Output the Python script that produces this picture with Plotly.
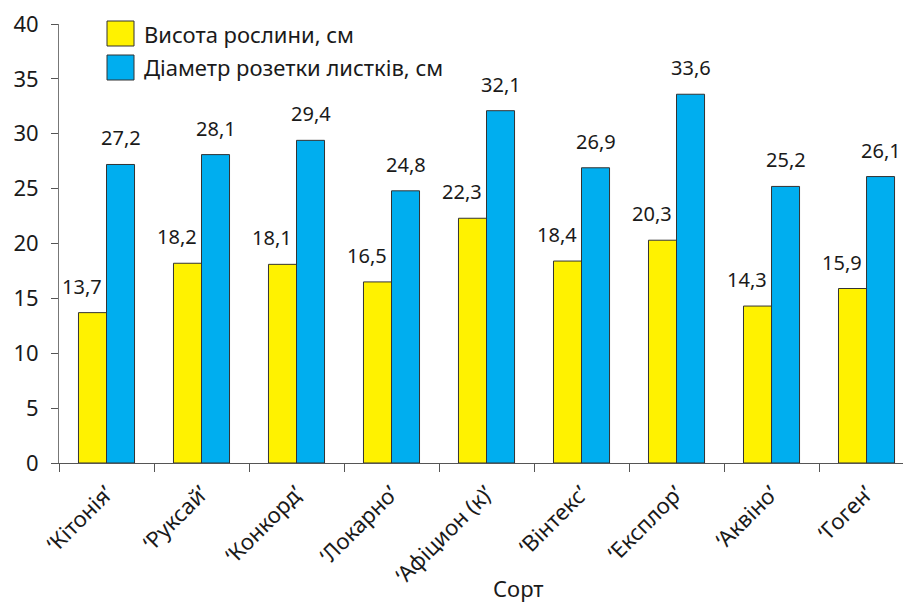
import plotly.graph_objects as go

categories = ["‘Кітонія’", "‘Руксай’", "‘Конкорд’", "‘Локарно’", "‘Афіцион (к)’",
              "‘Вінтекс’", "‘Експлор’", "‘Аквіно’", "‘Гоген’"]
height_vals = [13.7, 18.2, 18.1, 16.5, 22.3, 18.4, 20.3, 14.3, 15.9]
diam_vals = [27.2, 28.1, 29.4, 24.8, 32.1, 26.9, 33.6, 25.2, 26.1]
series_names = ["Висота рослини, см", "Діаметр розетки листків, см"]
x_title = "Сорт"
y_ticks = [0, 5, 10, 15, 20, 25, 30, 35, 40]

YELLOW = "#FFF200"
BLUE = "#00AEEF"
FONT = "Noto Sans"
TXT = "#1a1a1a"

fig = go.Figure()
fig.add_trace(go.Bar(x=categories, y=height_vals, name=series_names[0],
                     marker=dict(color=YELLOW, line=dict(color="#333333", width=1))))
fig.add_trace(go.Bar(x=categories, y=diam_vals, name=series_names[1],
                     marker=dict(color=BLUE, line=dict(color="#333333", width=1))))

annotations = []
for c, v in zip(categories, height_vals):
    annotations.append(dict(x=c, y=v, xref="x", yref="y", text=f"{v:.1f}".replace(".", ","),
                            showarrow=False, xshift=-25, yshift=11, yanchor="bottom",
                            font=dict(family=FONT, size=20, color=TXT)))
for c, v in zip(categories, diam_vals):
    annotations.append(dict(x=c, y=v, xref="x", yref="y", text=f"{v:.1f}".replace(".", ","),
                            showarrow=False, xshift=14, yshift=11, yanchor="bottom",
                            font=dict(family=FONT, size=20, color=TXT)))

# custom legend
shapes = []
leg_colors = [YELLOW, BLUE]
plot_top, plot_h = 24, 439
plot_left, plot_w = 59, 844
def px_to_paper_x(px):
    return (px - plot_left) / plot_w
def px_to_paper_y(py):
    return 1 - (py - plot_top) / plot_h
box_tops = [21, 55]
for name, col, top in zip(series_names, leg_colors, box_tops):
    shapes.append(dict(type="rect", xref="paper", yref="paper",
                       x0=px_to_paper_x(107), x1=px_to_paper_x(134),
                       y0=px_to_paper_y(top + 25), y1=px_to_paper_y(top),
                       fillcolor=col, line=dict(color="#333333", width=1)))
    annotations.append(dict(xref="paper", yref="paper", x=px_to_paper_x(142),
                            y=px_to_paper_y(top + 12.5), text=name, showarrow=False,
                            xanchor="left", yanchor="middle",
                            font=dict(family=FONT, size=22, color=TXT)))

annotations.append(dict(xref="paper", yref="paper", x=px_to_paper_x(518), y=px_to_paper_y(588),
                        text=x_title, showarrow=False, xanchor="center", yanchor="middle",
                        font=dict(family=FONT, size=22, color=TXT)))

fig.update_layout(
    width=903, height=605,
    margin=dict(l=59, r=0, t=24, b=142),
    paper_bgcolor="white", plot_bgcolor="white",
    barmode="group", bargap=0.41, bargroupgap=0,
    showlegend=False,
    font=dict(family=FONT, size=20, color=TXT),
    annotations=annotations, shapes=shapes,
    xaxis=dict(type="category", range=[-0.5, 8.384], tickson="boundaries",
               ticks="outside", ticklen=8, tickcolor="#555555", tickwidth=1,
               showline=True, linecolor="#555555", linewidth=1,
               tickangle=-45, tickfont=dict(family=FONT, size=22, color=TXT),
               ticklabelstandoff=8, showgrid=False),
    yaxis=dict(range=[0, 40], tickvals=y_ticks, ticks="outside", ticklen=7,
               tickcolor="#555555", showline=True, linecolor="#777777", linewidth=1,
               showgrid=False, zeroline=False, ticklabelstandoff=8,
               tickfont=dict(family=FONT, size=22, color=TXT)),
)

fig.write_html("out.html")
